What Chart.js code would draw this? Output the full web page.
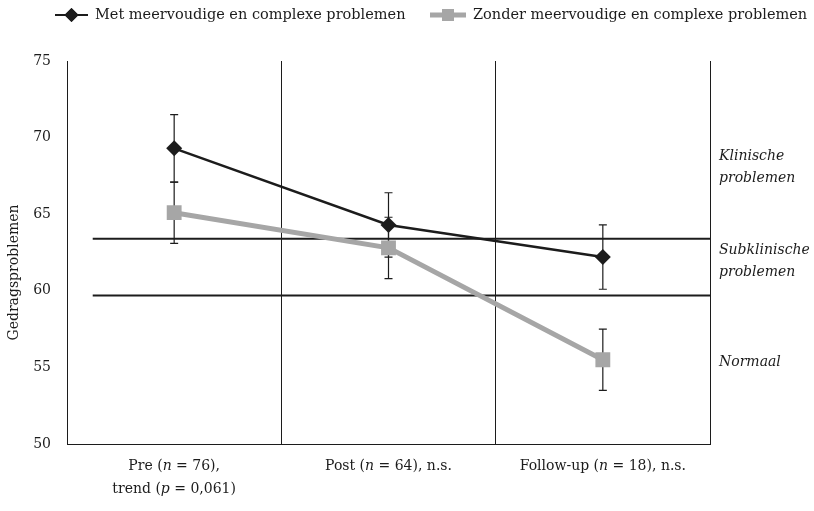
<!DOCTYPE html>
<html>
<head>
<meta charset="utf-8">
<script src="https://cdn.jsdelivr.net/npm/chart.js@4.4.1/dist/chart.umd.min.js"></script>
<style>
    html, body { margin: 0; padding: 0; background: #fff; }
    #wrap { width: 814px; height: 511px; }
</style>
</head>
<body>
<div id="wrap"><canvas id="grafico"></canvas></div>
<script>
// Gegevens
const categorieen = ['Pre', 'Post', 'Follow-up'];
// *...* = cursief
const asLabels = [
    ['Pre (*n* = 76),', 'trend (*p* = 0,061)'],
    ['Post (*n* = 64), n.s.'],
    ['Follow-up (*n* = 18), n.s.']
];
const metProblemen = [69.3, 64.3, 62.2];
const metFout = [2.2, 2.1, 2.1];
const zonderProblemen = [65.1, 62.8, 55.5];
const zonderFout = [2.0, 2.0, 2.0];
const grenzen = [63.4, 59.7];
const grensStart = 0.12; // op de hulpas 0..3
const zoneTeksten = [['Klinische', 'problemen'], ['Subklinische', 'problemen'], ['Normaal']];
const zoneWaarden = [68.05, 61.9, 55.35];
const yMin = 50, yMax = 75, yStap = 5;
const yTitel = 'Gedragsproblemen';

const reeksNamen = ['Met meervoudige en complexe problemen', 'Zonder meervoudige en complexe problemen'];
const zwart = '#1c1c1c';
const grijs = '#a6a6a6';
const lettertype = "'DejaVu Serif', 'Liberation Serif', serif";

function zonderSterren(s) {
    return s.replace(/\*/g, '');
}

// tekst met cursieve stukken, gecentreerd op x
function tekenRijkeTekst(ctx, tekst, x, y, grootte) {
    const delen = tekst.split('*');
    let breedte = 0;
    delen.forEach((d, i) => {
        ctx.font = (i % 2 ? 'italic ' : '') + grootte + 'px ' + lettertype;
        breedte += ctx.measureText(d).width;
    });
    let cx = x - breedte / 2;
    ctx.textAlign = 'left';
    delen.forEach((d, i) => {
        ctx.font = (i % 2 ? 'italic ' : '') + grootte + 'px ' + lettertype;
        ctx.fillText(d, cx, y);
        cx += ctx.measureText(d).width;
    });
}

const foutBalken = {
    id: 'foutBalken',
    beforeDatasetsDraw(chart) {
        const ctx = chart.ctx;
        const y = chart.scales.y;
        ctx.save();
        ctx.strokeStyle = zwart;
        ctx.lineWidth = 1.2;
        chart.data.datasets.forEach((ds, i) => {
            if (!ds.fouten) return;
            chart.getDatasetMeta(i).data.forEach((pt, j) => {
                const boven = y.getPixelForValue(ds.data[j] + ds.fouten[j]);
                const onder = y.getPixelForValue(ds.data[j] - ds.fouten[j]);
                ctx.beginPath();
                ctx.moveTo(pt.x, boven); ctx.lineTo(pt.x, onder);
                ctx.moveTo(pt.x - 4, boven); ctx.lineTo(pt.x + 4, boven);
                ctx.moveTo(pt.x - 4, onder); ctx.lineTo(pt.x + 4, onder);
                ctx.stroke();
            });
        });
        ctx.restore();
    }
};

const extraTekst = {
    id: 'extraTekst',
    afterDraw(chart) {
        const ctx = chart.ctx;
        const area = chart.chartArea;
        const x = chart.scales.x;
        const y = chart.scales.y;
        ctx.save();
        ctx.fillStyle = zwart;
        ctx.textBaseline = 'middle';

        // labels onder de x-as
        asLabels.forEach((regels, i) => {
            const px = x.getPixelForValue(i);
            regels.forEach((r, k) => {
                tekenRijkeTekst(ctx, r, px, area.bottom + 22 + k * 23, 14);
            });
        });

        // zones rechts
        ctx.font = 'italic 14px ' + lettertype;
        ctx.textAlign = 'left';
        zoneTeksten.forEach((regels, i) => {
            const midden = y.getPixelForValue(zoneWaarden[i]);
            regels.forEach((r, k) => {
                ctx.fillText(r, area.right + 9, midden + (k - (regels.length - 1) / 2) * 22);
            });
        });

        // titel y-as (iets onder het midden, zoals in het origineel)
        ctx.save();
        ctx.translate(14, (area.top + area.bottom) / 2 + 20);
        ctx.rotate(-Math.PI / 2);
        ctx.textAlign = 'center';
        ctx.font = '14px ' + lettertype;
        ctx.fillText(yTitel, 0, 0);
        ctx.restore();

        // legenda
        const legY = 15;
        const items = [
            { x0: 55, x1: 88, kleur: zwart, dikte: 2, stijl: 'rectRot', radius: 7 },
            { x0: 430, x1: 466, kleur: grijs, dikte: 5, stijl: 'rect', radius: 8.5 }
        ];
        items.forEach((it, i) => {
            ctx.strokeStyle = it.kleur;
            ctx.lineWidth = it.dikte;
            ctx.beginPath();
            ctx.moveTo(it.x0, legY); ctx.lineTo(it.x1, legY);
            ctx.stroke();
            ctx.fillStyle = it.kleur;
            Chart.helpers.drawPoint(ctx, { pointStyle: it.stijl, radius: it.radius, borderWidth: 0 }, (it.x0 + it.x1) / 2, legY);
            ctx.fill();
            ctx.fillStyle = zwart;
            ctx.font = '14.5px ' + lettertype;
            ctx.textAlign = 'left';
            ctx.fillText(reeksNamen[i], it.x1 + 7, legY);
        });
        ctx.restore();
    }
};

const ctx = document.getElementById('grafico').getContext('2d');
const grafiek = new Chart(ctx, {
    type: 'line',
    data: {
        labels: asLabels.map(r => r.map(zonderSterren)),
        datasets: [{
            label: reeksNamen[0],
            data: metProblemen,
            fouten: metFout,
            borderColor: zwart,
            backgroundColor: zwart,
            borderWidth: 2.5,
            pointStyle: 'rectRot',
            pointRadius: 8,
            pointBorderWidth: 0,
            order: 1
        }, {
            label: reeksNamen[1],
            data: zonderProblemen,
            fouten: zonderFout,
            borderColor: grijs,
            backgroundColor: grijs,
            borderWidth: 5,
            pointStyle: 'rect',
            pointRadius: 10.5,
            pointBorderWidth: 0,
            order: 2
        }].concat(grenzen.map(g => ({
            label: 'grens',
            xAxisID: 'xRef',
            data: [{ x: grensStart, y: g }, { x: categorieen.length, y: g }],
            borderColor: zwart,
            borderWidth: 2,
            pointRadius: 0,
            order: 3
        })))
    },
    options: {
        responsive: true,
        maintainAspectRatio: false,
        animation: false,
        layout: { padding: { top: 61, right: 104, left: 0, bottom: 0 } },
        plugins: {
            legend: { display: false },
            tooltip: { enabled: false }
        },
        scales: {
            x: {
                type: 'category',
                offset: true,
                grid: {
                    offset: true,
                    color: c => (c.index === 0 ? 'transparent' : zwart),
                    lineWidth: 1,
                    drawTicks: false
                },
                border: { color: zwart, width: 1 },
                ticks: { color: 'transparent', font: { family: lettertype, size: 14 } },
                afterFit(s) { s.height = 67; }
            },
            xRef: {
                type: 'linear',
                min: 0,
                max: categorieen.length,
                display: false
            },
            y: {
                min: yMin,
                max: yMax,
                ticks: { stepSize: yStap, color: zwart, padding: 16, font: { family: lettertype, size: 14 } },
                grid: { display: false, drawTicks: false },
                border: { display: true, color: zwart, width: 1 },
                afterFit(s) { s.width = 67; }
            }
        }
    },
    plugins: [foutBalken, extraTekst]
});
</script>
</body>
</html>
